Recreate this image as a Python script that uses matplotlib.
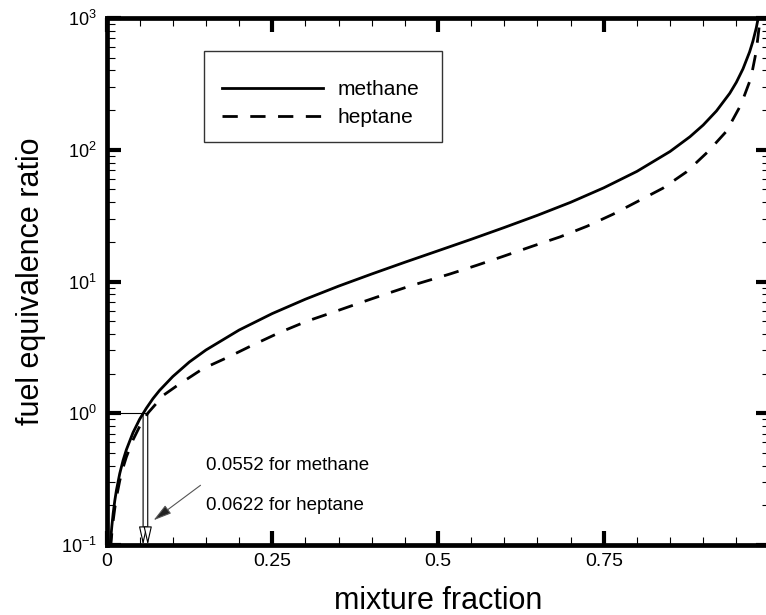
import matplotlib
matplotlib.use("Agg")
import matplotlib.pyplot as plt
from matplotlib.patches import Rectangle
from matplotlib.ticker import FixedLocator, MultipleLocator, LogLocator, FixedFormatter, NullFormatter

plt.rcParams['font.family'] = ['Liberation Sans', 'DejaVu Sans']
plt.rcParams['mathtext.default'] = 'regular'
plt.rcParams['axes.unicode_minus'] = False

# valeurs
z_methane = [0.0055, 0.006, 0.007, 0.008, 0.01, 0.0125, 0.015, 0.02, 0.025, 0.03, 0.04,
             0.05, 0.06, 0.07, 0.08, 0.1, 0.125, 0.15, 0.2, 0.25, 0.3, 0.35, 0.4, 0.45,
             0.5, 0.55, 0.6, 0.65, 0.7, 0.75, 0.8, 0.85, 0.88, 0.9, 0.92, 0.94, 0.95,
             0.96, 0.97, 0.975, 0.98, 0.985]
phi_methane = [0.095, 0.103, 0.121, 0.138, 0.173, 0.217, 0.261, 0.349, 0.439, 0.529, 0.713,
               0.901, 1.09, 1.29, 1.49, 1.90, 2.45, 3.02, 4.28, 5.71, 7.34, 9.22, 11.4, 14.0,
               17.1, 20.9, 25.7, 31.8, 39.9, 51.4, 68.5, 97.0, 125.5, 154.0, 197.0, 268.0, 325.0,
               411.0, 553.0, 667.0, 839.0, 1124.0]

z_heptane = [0.0062, 0.007, 0.008, 0.01, 0.0125, 0.015, 0.02, 0.025, 0.03, 0.04, 0.05,
             0.0622, 0.076, 0.085, 0.108, 0.1455, 0.183, 0.221, 0.262, 0.302, 0.342, 0.385,
             0.425, 0.458, 0.518, 0.559, 0.598, 0.642, 0.684, 0.725, 0.764, 0.805, 0.839,
             0.875, 0.907, 0.935, 0.957, 0.972, 0.98, 0.986, 0.988]
phi_heptane = [0.094, 0.106, 0.122, 0.152, 0.19, 0.23, 0.308, 0.387, 0.466, 0.628, 0.794,
               1.0, 1.2, 1.36, 1.64, 2.18, 2.66, 3.3, 4.12, 4.99, 5.85, 6.96,
               8.15, 9.25, 11.4, 13.3, 15.5, 18.5, 21.8, 26.3, 32.4, 41.5, 51.0,
               68.0, 96.5, 138.0, 220.0, 350.0, 560.0, 1000.0, 1200.0]

z_st = [0.0552, 0.0622]          # fractions stoechiometriques
labels_st = ['0.0552 for methane', '0.0622 for heptane']
x_ticks = [0, 0.25, 0.5, 0.75, 1.0]
x_tick_labels = ['0', '0.25', '0.5', '0.75', '']

fig = plt.figure(figsize=(7.66, 6.15), dpi=100)
ax = fig.add_axes([106.5 / 766, 70 / 615, 663 / 766, 527 / 615])

ax.plot(z_methane, phi_methane, color='black', lw=2, label='methane')
ax.plot(z_heptane, phi_heptane, color='black', lw=2, dashes=[5.5, 4.5], label='heptane')

ax.set_yscale('log')
ax.set_xlim(0, 1)
ax.set_ylim(0.1, 1000)

# lignes de construction pour phi = 1
ax.plot([0, max(z_st)], [1, 1], color='black', lw=0.8)
for z in z_st:
    ax.annotate('', xy=(z, 0.1), xytext=(z, 1),
                arrowprops=dict(arrowstyle='-|>,head_length=0.8,head_width=0.18',
                                fc='white', ec='black', lw=0.8, mutation_scale=14,
                                shrinkA=0, shrinkB=0))

ax.text(0.150, 0.369, labels_st[0], fontsize=13.5, ha='left', va='baseline')
ax.text(0.150, 0.1836, labels_st[1], fontsize=13.5, ha='left', va='baseline')
ax.annotate('', xy=(0.0709, 0.154), xytext=(0.1418, 0.284),
            arrowprops=dict(arrowstyle='-|>,head_length=0.8,head_width=0.22',
                            fc='#222222', ec='#555555', lw=0.8, mutation_scale=14,
                            shrinkA=0, shrinkB=0))

# legende
ax.add_patch(Rectangle((0.147, 0.765), 0.359, 0.172, transform=ax.transAxes,
                       fill=False, ec='#333333', lw=1.0, zorder=5))
ax.legend(loc='upper left', bbox_to_anchor=(0.174, 0.882), frameon=False,
          fontsize=15, handlelength=4.85, handletextpad=0.72, labelspacing=0.42,
          borderpad=0, borderaxespad=0)

ax.xaxis.set_major_locator(FixedLocator(x_ticks))
ax.xaxis.set_major_formatter(FixedFormatter(x_tick_labels))
ax.xaxis.set_minor_locator(MultipleLocator(0.05))
ax.yaxis.set_major_locator(LogLocator(base=10))
ax.yaxis.set_minor_locator(LogLocator(base=10, subs=range(2, 10)))
ax.yaxis.set_minor_formatter(NullFormatter())

ax.tick_params(which='both', direction='in', top=True, right=True, colors='black')
ax.tick_params(which='major', length=10, width=3)
ax.tick_params(which='minor', length=5.5, width=0.8)
ax.tick_params(axis='x', which='major', labelsize=14, pad=5.8)
ax.tick_params(axis='y', which='major', labelsize=13, pad=6.8)

for s in ax.spines.values():
    s.set_linewidth(3.4)

ax.set_xlabel('mixture fraction', fontsize=22, labelpad=11.5)
ax.set_ylabel('fuel equivalence ratio', fontsize=22, labelpad=11)

fig.savefig('out.png', dpi=100)
